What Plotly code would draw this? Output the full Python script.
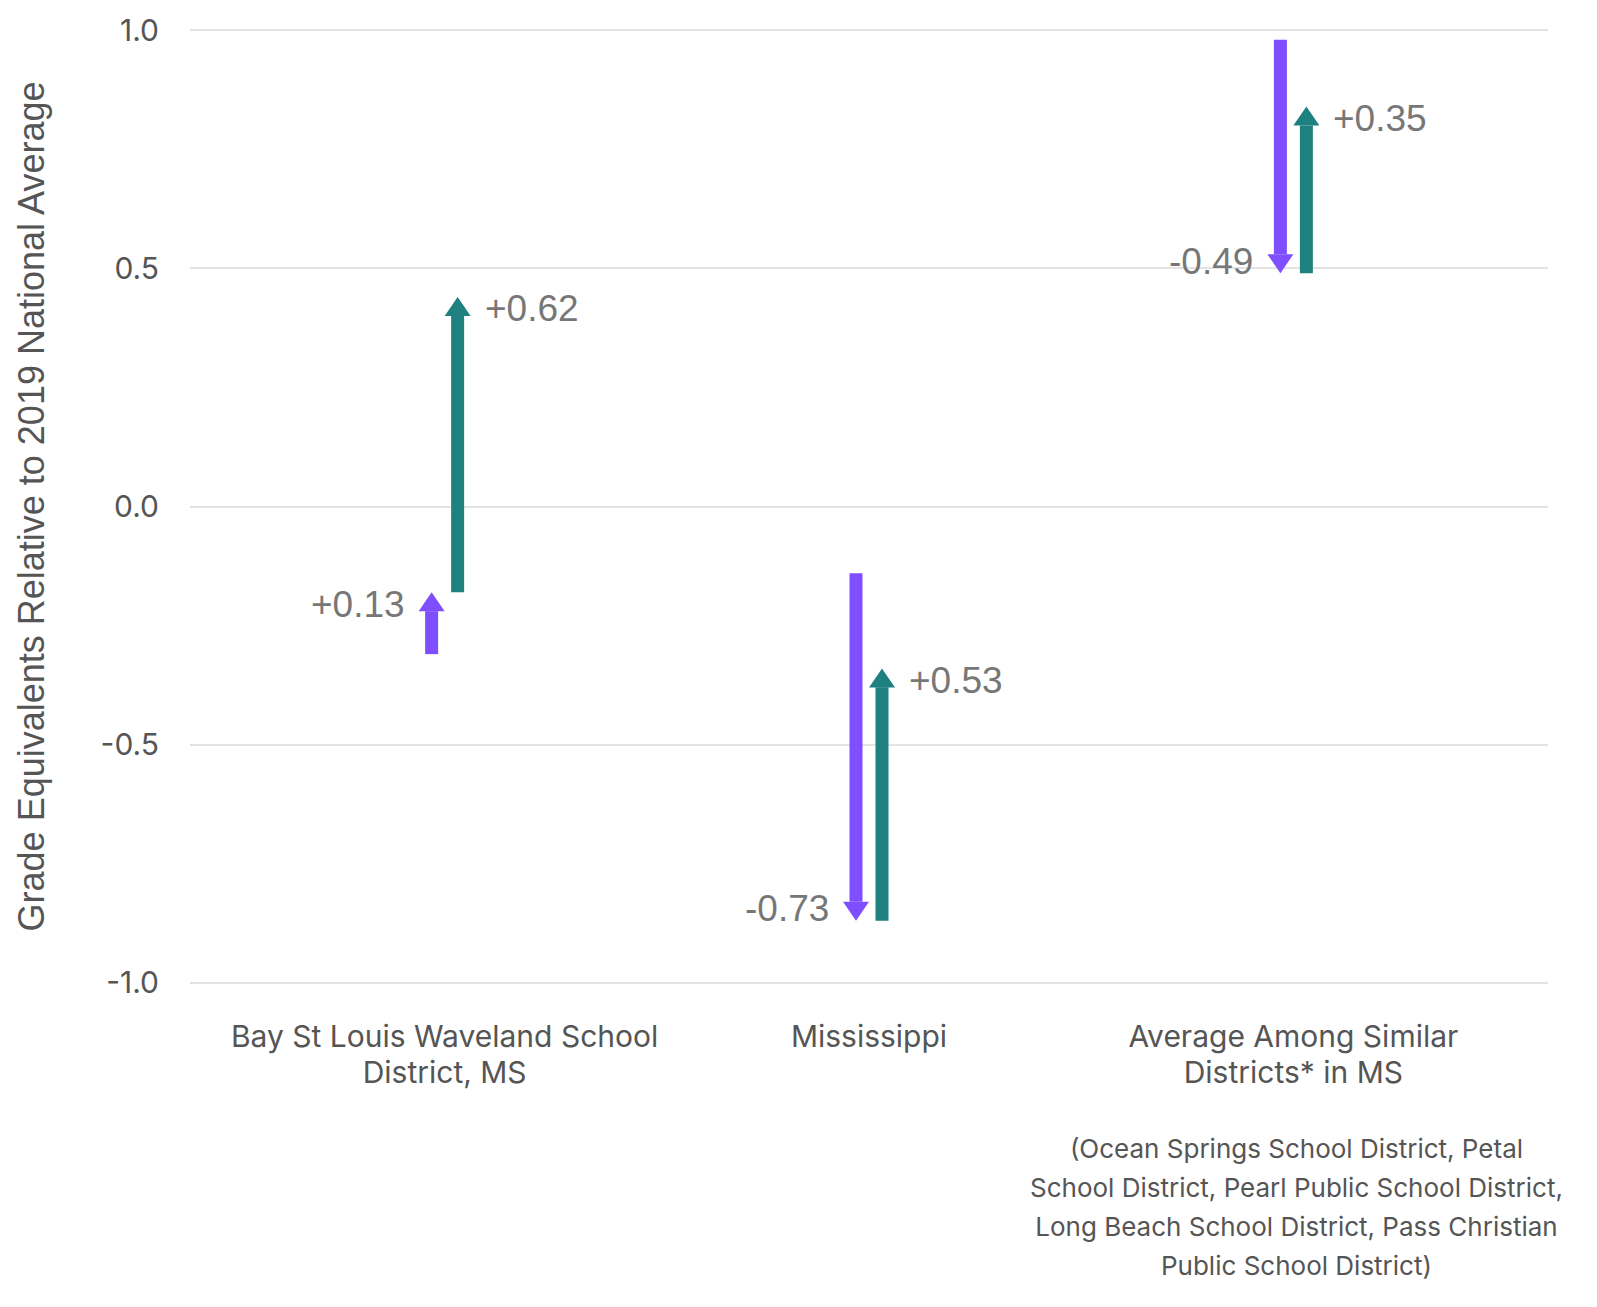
import plotly.graph_objects as go

# ---------------- data ----------------
categories = [
    "Bay St Louis Waveland School<br>District, MS",
    "Mississippi",
    "Average Among Similar<br>Districts* in MS",
]
start_values = [-0.31, -0.14, 0.98]      # starting level (grade equivalents)
change_first = [0.13, -0.73, -0.49]      # first change (purple arrow)
change_second = [0.62, 0.53, 0.35]       # second change (teal arrow)
y_tick_vals = [-1.0, -0.5, 0.0, 0.5, 1.0]
y_tick_text = ["-1.0", "-0.5", "0.0", "0.5", "1.0"]
footnote_lines = [
    "(Ocean Springs School District, Petal",
    "School District, Pearl Public School District,",
    "Long Beach School District, Pass Christian",
    "Public School District)",
]

# ---------------- styling ----------------
PURPLE = "#7f4fff"
TEAL = "#1f8080"
W, H = 1597, 1307
M_L, M_R, M_T, M_B = 190, 49, 14, 310
Y_RANGE = [-1.03, 1.03]
X_RANGE = [-0.6, 2.6]
PX_PER_Y = (H - M_T - M_B) / (Y_RANGE[1] - Y_RANGE[0])
HEAD_LEN = 19
HEAD_HALF = 13
SHAFT_HALF = 6.5
OFFSET = 13
LABEL_GAP = 25

SANS = "Inter, 'Open Sans', sans-serif"
ARIAL = "'Liberation Sans', Arial, sans-serif"

fig = go.Figure()
# invisible trace so the axes exist
fig.add_trace(go.Scatter(x=[0, 1, 2], y=start_values, mode="markers",
                         marker=dict(opacity=0), hoverinfo="skip", showlegend=False))

shapes = []
annotations = []
for i in range(len(categories)):
    a = start_values[i]
    b = a + change_first[i]
    c = b + change_second[i]
    for (y_from, y_to, delta, color, off, side) in [
        (a, b, change_first[i], PURPLE, -OFFSET, "left"),
        (b, c, change_second[i], TEAL, OFFSET, "right"),
    ]:
        d = 1 if y_to > y_from else -1
        base = y_to - d * HEAD_LEN / PX_PER_Y
        shapes.append(dict(
            type="rect", xref="x", yref="y", xsizemode="pixel", xanchor=i,
            x0=off - SHAFT_HALF, x1=off + SHAFT_HALF, y0=y_from, y1=base,
            fillcolor=color, line=dict(width=0), layer="above",
        ))
        shapes.append(dict(
            type="path", xref="x", yref="y", xsizemode="pixel", ysizemode="pixel",
            xanchor=i, yanchor=y_to,
            path=f"M {off - HEAD_HALF},{-d * HEAD_LEN} L {off + HEAD_HALF},{-d * HEAD_LEN} L {off},0 Z",
            fillcolor=color, line=dict(width=0), layer="above",
        ))
        annotations.append(dict(
            x=i, y=y_to, xref="x", yref="y", text=f"{delta:+.2f}", showarrow=False,
            xanchor="right" if side == "left" else "left", yanchor="middle",
            xshift=(off - LABEL_GAP) if side == "left" else (off + LABEL_GAP),
            yshift=-d * 12,
            font=dict(family=ARIAL, size=37, color="#777777"),
        ))

footnote = "<br>".join(f"<span style='font-size:26px'>{ln}</span>" for ln in footnote_lines)
annotations.append(dict(
    x=2, y=-0.137, xref="x", yref="paper", text=footnote, showarrow=False,
    xanchor="center", yanchor="top", xshift=3, align="center",
    font=dict(family=SANS, size=30, color="#555555"),
))

cat_text = ["<br>".join(f"<span style='font-size:30px'>{p}</span>" for p in c.split("<br>"))
            for c in categories]

fig.update_layout(
    width=W, height=H,
    margin=dict(l=M_L, r=M_R, t=M_T, b=M_B),
    paper_bgcolor="white", plot_bgcolor="white",
    showlegend=False,
    shapes=shapes,
    annotations=annotations,
    xaxis=dict(
        range=X_RANGE, tickvals=[0, 1, 2], ticktext=cat_text,
        showgrid=False, zeroline=False, showline=False, ticks="",
        tickfont=dict(family=SANS, size=28, color="#555555"),
        ticklabelstandoff=21, fixedrange=True,
    ),
    yaxis=dict(
        range=Y_RANGE, tickvals=y_tick_vals, ticktext=y_tick_text,
        showgrid=True, gridcolor="#e3e3e3", gridwidth=2,
        zeroline=False, showline=False, ticks="",
        tickfont=dict(family=SANS, size=30, color="#555555"),
        ticklabelstandoff=30,
        title=dict(text="Grade Equivalents Relative to 2019 National Average",
                   font=dict(family=ARIAL, size=36, color="#555555"), standoff=44),
        fixedrange=True,
    ),
)

fig.write_html("out.html", config={"displayModeBar": False},
               post_script="document.body.style.margin='0';")
